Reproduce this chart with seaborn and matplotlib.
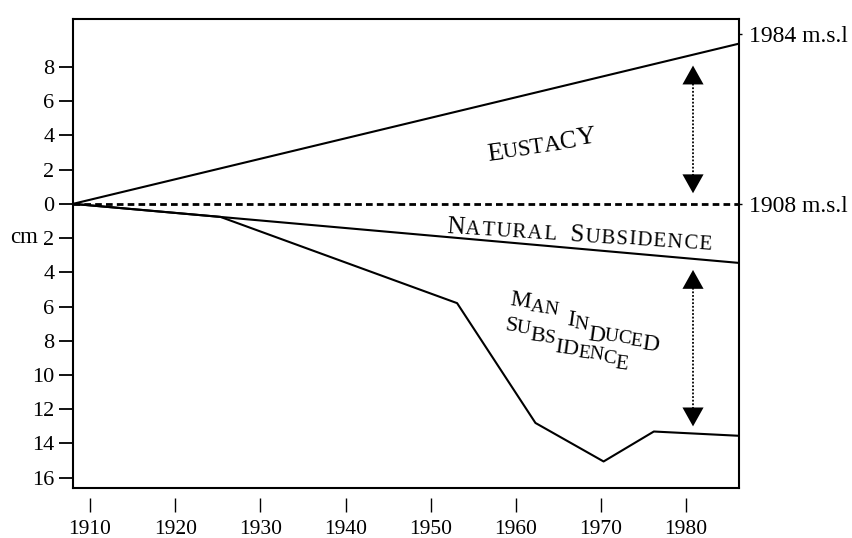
import matplotlib
matplotlib.use("Agg")
import matplotlib.pyplot as plt
import matplotlib.transforms as mtransforms
import seaborn as sns
import pandas as pd
import numpy as np

# Sea level components relative to the 1908 mean sea level (cm, up positive)
eustacy_years = [1908, 1986.2]
eustacy_cm = [0.0, 9.36]

natural_years = [1908, 1986.2]
natural_cm = [0.0, -3.45]

man_years = [1908, 1925.3, 1953.1, 1962.3, 1970.3, 1976.2, 1986.2]
man_cm = [0.0, -0.76, -5.8, -12.8, -15.05, -13.3, -13.55]

# Range arrows (year, lower end, upper end)
arrow_year = 1980.8
eustacy_arrow = (0.62, 8.08)
subsidence_arrow = (-13.0, -3.86)

x_ticks = [1910, 1920, 1930, 1940, 1950, 1960, 1970, 1980]
y_ticks = [8, 6, 4, 2, 0, -2, -4, -6, -8, -10, -12, -14, -16]
msl_levels = [0.0, 9.9]
msl_labels = ["1908 m.s.l", "1984 m.s.l"]

sns.set_theme(style="white")
plt.rcParams["font.family"] = ["Liberation Serif", "DejaVu Serif"]
plt.rcParams["text.color"] = "black"

W, H = 852, 538
fig = plt.figure(figsize=(W / 100, H / 100), dpi=100)
ax = fig.add_axes([73 / W, 1 - 488 / H, 666 / W, 469 / H])

lines = pd.concat([
    pd.DataFrame({"year": eustacy_years, "cm": eustacy_cm, "series": "eustacy"}),
    pd.DataFrame({"year": natural_years, "cm": natural_cm, "series": "natural"}),
    pd.DataFrame({"year": man_years, "cm": man_cm, "series": "man"}),
])
for name, grp in lines.groupby("series", sort=False):
    sns.lineplot(data=grp, x="year", y="cm", ax=ax, color="black", lw=1.5,
                 sort=False, legend=False)

ax.axhline(0, color="black", lw=2.0, ls=(0, (2.4, 1.5)), zorder=3)

# double-headed range arrows: dotted shaft, solid heads
for lo, hi in (eustacy_arrow, subsidence_arrow):
    ax.vlines(arrow_year, lo + 0.6, hi - 0.6, color="black", lw=1.3,
              linestyles=[(0, (1, 1))], zorder=3)
    ax.annotate("", xy=(arrow_year, hi), xytext=(arrow_year, lo),
                arrowprops=dict(arrowstyle="<|-|>,head_length=0.68,head_width=0.38",
                                mutation_scale=20, fc="black", ec="black", lw=0,
                                shrinkA=0, shrinkB=0), zorder=4)

ax.set_xlim(1908, 1986.2)
ax.set_ylim(-16.6, 10.8)
ax.set_xlabel("")
ax.set_ylabel("")

for sp in ax.spines.values():
    sp.set_visible(True)
    sp.set_color("black")
    sp.set_linewidth(1.5)

ax.set_yticks(y_ticks)
ax.set_yticklabels([str(abs(v)) for v in y_ticks])
ax.tick_params(axis="y", left=True, length=10, width=1.3, pad=3.5,
               direction="out", labelsize=16, colors="black")
ax.tick_params(axis="x", bottom=False, labelbottom=False)

# detached year ticks below the frame
secx = ax.secondary_xaxis(-10 / 469)
secx.spines["bottom"].set_visible(False)
secx.set_xticks(x_ticks)
secx.set_xticklabels([str(v) for v in x_ticks])
secx.tick_params(axis="x", length=10, width=1.0, pad=5.5, direction="out",
                 labelsize=15.5, colors="black")

# mean sea level labels on the right
secy = ax.secondary_yaxis("right")
secy.spines["right"].set_visible(False)
secy.set_yticks(msl_levels)
secy.set_yticklabels(msl_labels)
secy.tick_params(axis="y", length=2, width=1.0, pad=5, direction="out",
                 labelsize=17, colors="black")

blend = mtransforms.blended_transform_factory(ax.transAxes, ax.transData)
ax.text(-0.053, -1.95, "cm", transform=blend, ha="right", va="center", fontsize=16.5)

renderer = fig.canvas.get_renderer()


def letters_along(text, x0, bases, sizes, angle, gap=1.0, space=10):
    """Set a label letter by letter: each glyph gets its own size and
    baseline height (pixels from the top), advancing by its own width."""
    x = x0
    c = np.cos(np.deg2rad(angle))
    for ch, yb, fs in zip(text, bases, sizes):
        if ch == " ":
            x += space
            continue
        yy = yb(x) if callable(yb) else yb
        t = fig.text(x / W, 1 - yy / H, ch, fontsize=fs, rotation=0,
                     rotation_mode="anchor", ha="left", va="baseline")
        w = t.get_window_extent(renderer).width
        t.set_rotation(angle)
        x += (w + gap) * c


letters_along("EUSTACY", 488,
              [161, 158, 155.5, 153.5, 151.5, 149, 145],
              [19, 15, 16.5, 16.5, 17, 18, 19], 8, gap=-0.2)

nat_base = lambda x: 233 + 0.062 * (x - 446)
nat_text = "NATURAL SUBSIDENCE"
letters_along(nat_text, 446, [nat_base] * len(nat_text),
              [18] + [15] * 6 + [0] + [18] + [15] * 9, -3.5, gap=1.2, space=12)

letters_along("MAN INDUCED", 509,
              [305, 311, 313, None, 325, 328, 340, 340, 342, 345, 349],
              [17, 14, 14, 0, 17, 14, 17, 14, 14, 14, 17],
              -8, gap=-0.3, space=9)

letters_along("SUBSIDENCE", 504,
              [330, 332, 340, 342, 352, 353, 357, 358, 362, 368],
              [16, 14, 16, 14, 16, 16, 14, 14, 14, 15],
              -8, gap=-0.3)

fig.savefig("out.png", dpi=100)
